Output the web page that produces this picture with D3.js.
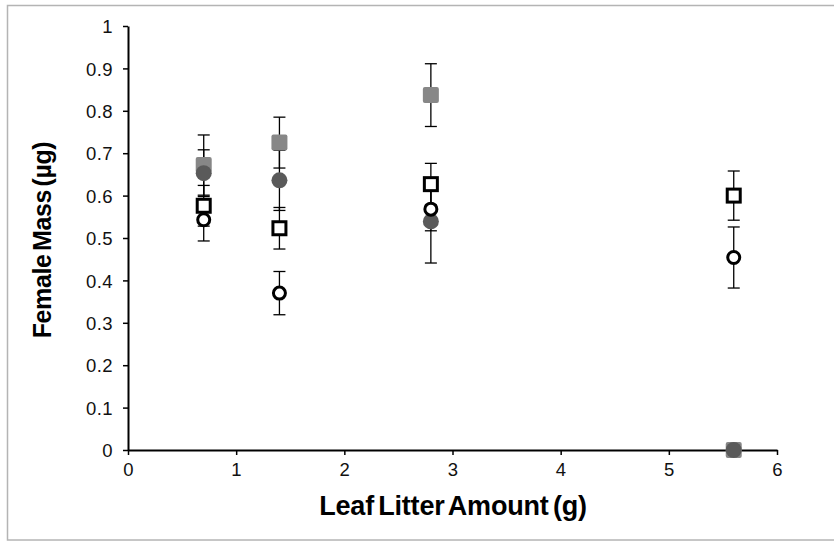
<!DOCTYPE html>
<html><head><meta charset="utf-8">
<script src="https://cdn.jsdelivr.net/npm/d3@7"></script>
<style>body{margin:0;background:#fff}svg{display:block}text{font-family:"Liberation Sans",Arial,sans-serif}</style>
</head><body><svg id="c" width="834" height="547"></svg>
<script>
const xValues = [0.7, 1.4, 2.8, 5.6];
const graySquare = [0.672, 0.725, 0.837, 0];
const graySquareErr = [0.071, 0.06, 0.074, 0];
const darkCircle = [0.653, 0.636, 0.539, 0];
const darkCircleErr = [0.055, 0.071, 0.098, 0];
const openSquare = [0.576, 0.523, 0.627, 0.600];
const openSquareErr = [0.048, 0.049, 0.049, 0.058];
const openCircle = [0.543, 0.370, 0.568, 0.454];
const openCircleErr = [0.05, 0.051, 0.051, 0.072];
const xTicks = [0,1,2,3,4,5,6];
const yTicks = [0,0.1,0.2,0.3,0.4,0.5,0.6,0.7,0.8,0.9,1];

const svg = d3.select("#c");
svg.append("rect").attr("x",7.5).attr("y",5.5).attr("width",840).attr("height",534.5)
  .attr("fill","#fff").attr("stroke","#b4b4b4").attr("stroke-width",1.5);

const x = d3.scaleLinear().domain([0,6]).range([128,777]);
const y = d3.scaleLinear().domain([0,1]).range([450,26]);

const gy = svg.append("g").attr("transform","translate(128,0)")
  .call(d3.axisLeft(y).tickValues(yTicks).tickSize(5).tickSizeOuter(0).tickFormat(d=>String(+d.toFixed(1))));
const gx = svg.append("g").attr("transform","translate(0,450)")
  .call(d3.axisBottom(x).tickValues(xTicks).tickSize(5).tickSizeOuter(0).tickFormat(d3.format("d")));
[gx,gy].forEach(g=>{
  g.select(".domain").attr("stroke","#000").attr("stroke-width",2);
  g.selectAll(".tick line").attr("stroke","#000").attr("stroke-width",1.5);
  g.selectAll("text").attr("font-size",18.5).attr("letter-spacing",0.4).attr("fill","#111").attr("font-family","Liberation Sans, Arial, sans-serif");
});
gy.selectAll("text").attr("x",-15).attr("dy","0.36em");
gx.selectAll("text").attr("y",13).attr("dy","0.72em");

svg.append("text").attr("transform","translate(51,240) rotate(-90)").attr("text-anchor","middle")
  .attr("font-size",25).attr("font-weight","bold").attr("letter-spacing",-0.4).attr("word-spacing",-3).text("Female Mass (µg)");
svg.append("text").attr("x",453).attr("y",515).attr("text-anchor","middle")
  .attr("font-size",27).attr("font-weight","bold").attr("letter-spacing",-0.2).attr("word-spacing",-3).text("Leaf Litter Amount (g)");

const series = [
  {v:graySquare,e:graySquareErr,shape:"square",fill:"#878787",stroke:"none"},
  {v:darkCircle,e:darkCircleErr,shape:"circle",fill:"#5a5a5a",stroke:"none"},
  {v:openSquare,e:openSquareErr,shape:"square",fill:"#fff",stroke:"#000"},
  {v:openCircle,e:openCircleErr,shape:"circle",fill:"#fff",stroke:"#000"}
];
const cap = 6;
series.forEach(s=>{
  const g = svg.append("g");
  const data = xValues.map((xv,i)=>({x:xv,v:s.v[i],e:s.e[i]})).filter(d=>d.e>0);
  data.forEach(d=>{
    g.append("line").attr("x1",x(d.x)).attr("x2",x(d.x)).attr("y1",y(d.v-d.e)).attr("y2",y(d.v+d.e)).attr("stroke","#000").attr("stroke-width",1.3);
    [d.v-d.e,d.v+d.e].forEach(t=>g.append("line").attr("x1",x(d.x)-cap).attr("x2",x(d.x)+cap).attr("y1",y(t)).attr("y2",y(t)).attr("stroke","#000").attr("stroke-width",1.3));
  });
});
series.forEach(s=>{
  const g = svg.append("g");
  xValues.forEach((xv,i)=>{
    const cx=x(xv), cy=y(s.v[i]);
    if(s.shape==="square"){
      if(s.stroke==="none") g.append("rect").attr("x",cx-8).attr("y",cy-8).attr("width",16).attr("height",16).attr("rx",2).attr("fill",s.fill);
      else g.append("rect").attr("x",cx-6.5).attr("y",cy-6.5).attr("width",13).attr("height",13).attr("fill",s.fill).attr("stroke",s.stroke).attr("stroke-width",3);
    } else {
      if(s.stroke==="none") g.append("circle").attr("cx",cx).attr("cy",cy).attr("r",8).attr("fill",s.fill);
      else g.append("circle").attr("cx",cx).attr("cy",cy).attr("r",6).attr("fill",s.fill).attr("stroke",s.stroke).attr("stroke-width",3);
    }
  });
});
</script></body></html>
